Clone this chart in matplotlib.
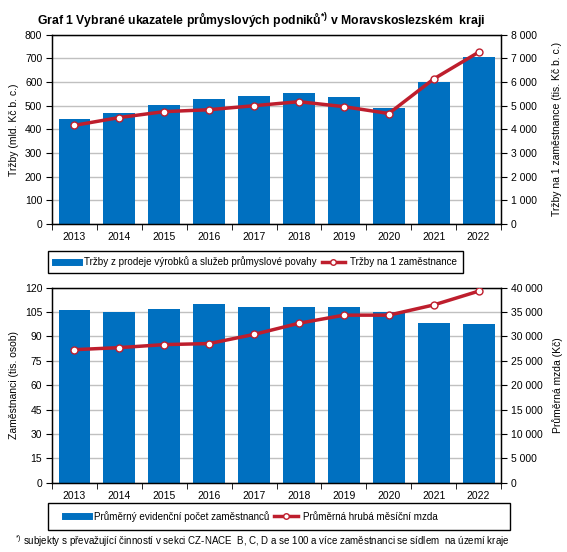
import matplotlib
matplotlib.use("Agg")
import matplotlib.pyplot as plt
from matplotlib.lines import Line2D
from matplotlib.patches import Rectangle

plt.rcParams['font.family'] = ['Liberation Sans', 'DejaVu Sans']
plt.rcParams['mathtext.fontset'] = 'custom'
plt.rcParams['mathtext.rm'] = 'Liberation Sans'
plt.rcParams['mathtext.default'] = 'regular'

years = ['2013', '2014', '2015', '2016', '2017', '2018', '2019', '2020', '2021', '2022']
trzby = [443, 468, 505, 530, 539, 555, 535, 489, 602, 707]
trzby_na_zam = [4170, 4500, 4750, 4830, 5000, 5170, 4960, 4670, 6130, 7260]
zamestnanci = [106.4, 105.2, 107.1, 110.2, 108.3, 108.3, 108.3, 104.8, 98.3, 97.7]
mzda = [27290, 27710, 28330, 28540, 30420, 32710, 34370, 34370, 36460, 39290]

blue = '#0070C0'
red = '#BE1E2D'
grid = '#C0C0C0'
fs = 7.5
W, H = 567, 552

def fmt(v):
    return f'{int(v):,}'.replace(',', ' ')

fig = plt.figure(figsize=(W / 100, H / 100), dpi=100)
ax1 = fig.add_axes([0.0917, 0.5942, 0.792, 0.3429])
ax3 = fig.add_axes([0.0917, 0.1255, 0.792, 0.3533])

def legend_box(x0, y0, x1, y1, hx, labels):
    # frame in pixel coords (from top), legend contents starting at hx
    fig.patches.append(Rectangle((x0 / W, 1 - y1 / H), (x1 - x0) / W, (y1 - y0) / H,
                                 transform=fig.transFigure, fill=False, ec='black', lw=1))
    handles = [Line2D([], [], color=blue, lw=5),
               Line2D([], [], color=red, lw=2.5, marker='o', ms=4, mfc='white', mec=red)]
    fig.legend(handles, labels, loc='center left', bbox_to_anchor=(hx / W, 1 - (y0 + y1) / 2 / H),
               ncol=2, fontsize=7.1, frameon=False, handlelength=2.4, borderpad=0,
               borderaxespad=0, columnspacing=0.55, handletextpad=0.5)

def panel(ax, bars, line, ymax, ystep, y2max, y2step, ylab, y2lab, pad2):
    x = list(range(len(years)))
    ax.set_axisbelow(True)
    ax.bar(x, bars, width=0.71, color=blue, zorder=2)
    ax.set_xlim(-0.5, len(years) - 0.5)
    ax.set_ylim(0, ymax)
    yt = list(range(0, ymax + 1, ystep))
    ax.set_yticks(yt)
    ax.set_yticklabels([str(v) for v in yt], fontsize=fs)
    ax.yaxis.grid(True, color=grid, lw=1)
    ax.set_xticks(x)
    ax.set_xticklabels(years, fontsize=fs)
    ax.set_xticks([i - 0.5 for i in range(len(years) + 1)], minor=True)
    ax.tick_params(axis='x', which='major', length=0, pad=6)
    ax.tick_params(axis='x', which='minor', length=4, direction='out')
    ax.tick_params(axis='y', length=4, direction='out', pad=3)
    ax.set_ylabel(ylab, fontsize=fs, labelpad=4)
    for s in ax.spines.values():
        s.set_linewidth(1)
    ax2 = ax.twinx()
    ax2.plot(x, line, color=red, lw=2.5, marker='o', ms=5, mfc='white', mec=red, mew=1, zorder=3)
    ax2.set_ylim(0, y2max)
    yt2 = list(range(0, y2max + 1, y2step))
    ax2.set_yticks(yt2)
    ax2.set_yticklabels([fmt(v) for v in yt2], fontsize=fs)
    ax2.tick_params(axis='y', length=4, direction='out', pad=3)
    ax2.set_ylabel(y2lab, fontsize=fs, labelpad=pad2)
    return ax2

panel(ax1, trzby, trzby_na_zam, 800, 100, 8000, 1000,
      'Tržby (mld. Kč b. c.)', 'Tržby na 1 zaměstnance (tis. Kč b. c.)', 11)
panel(ax3, zamestnanci, mzda, 120, 15, 40000, 5000,
      'Zaměstnanci (tis. osob)', 'Průměrná mzda (Kč)', 7)

legend_box(48, 251, 463, 273, 55,
           ['Tržby z prodeje výrobků a služeb průmyslové povahy', 'Tržby na 1 zaměstnance'])
legend_box(48, 503, 510, 530, 65,
           ['Průměrný evidenční počet zaměstnanců', 'Průměrná hrubá měsíční mzda'])

fig.text(0.46, 0.964, 'Graf 1 Vybrané ukazatele průmyslových podniků$^{*)}$ v Moravskoslezském  kraji',
         ha='center', va='center', fontsize=8.8, fontweight='bold')
fig.text(0.027, 0.019, '$^{*)}$ subjekty s převažující činností v sekci CZ-NACE  B, C, D a se 100 a více zaměstnanci se sídlem  na území kraje',
         ha='left', va='center', fontsize=7.0)

fig.savefig('out.png', dpi=100)
